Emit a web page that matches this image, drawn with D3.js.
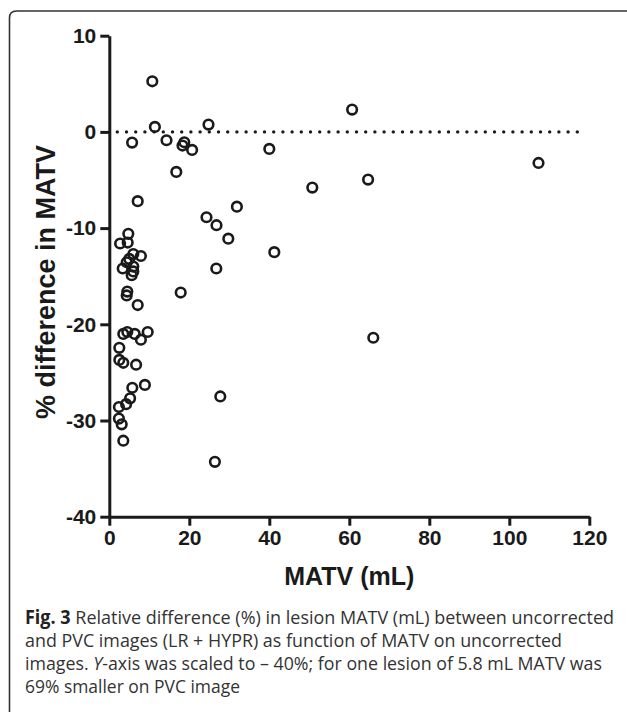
<!DOCTYPE html>
<html>
<head>
<meta charset="utf-8">
<script src="https://cdn.jsdelivr.net/npm/d3@7"></script>
<style>
  body { margin: 0; background: #fff; }
  svg { display: block; }
</style>
</head>
<body>
<script>
// lesion MATV (mL) on uncorrected images
var matv = [10.75, 11.4, 5.7, 14.3, 18.75, 18.3, 20.7, 24.8, 40.0, 60.7, 107.3, 16.75,
  50.75, 64.7, 7.1, 31.9, 24.3, 26.8, 29.75, 41.25, 26.75, 17.85, 66.0, 27.75, 26.4,
  4.75, 4.6, 2.7, 6.0, 7.9, 5.0, 4.35, 3.35, 6.0, 6.0, 5.6, 4.5, 4.35, 7.1,
  3.5, 4.5, 6.35, 7.9, 9.6, 2.5, 2.5, 3.5, 6.7, 5.75, 8.9, 5.2, 4.2, 2.4, 2.4, 3.1, 3.5];
// % difference in MATV
var pctDiff = [5.26, 0.52, -1.11, -0.87, -1.08, -1.42, -1.87, 0.76, -1.77, 2.32, -3.23, -4.16,
  -5.79, -4.96, -7.2, -7.77, -8.87, -9.7, -11.1, -12.5, -14.2, -16.7, -21.4, -27.5, -34.3,
  -10.6, -11.5, -11.6, -12.7, -12.9, -13.2, -13.55, -14.2, -14.0, -14.5, -14.9, -16.6, -17.0, -18.0,
  -21.0, -20.8, -21.0, -21.6, -20.8, -22.45, -23.7, -24.0, -24.2, -26.6, -26.3, -27.7, -28.3, -28.6, -29.8, -30.4, -32.1];
var xTicks = [0, 20, 40, 60, 80, 100, 120];
var yTicks = [10, 0, -10, -20, -30, -40];
var refLine = [0];

var captionLines = [
  [{t: "Fig. 3", w: "bold"}, {t: " Relative difference (%) in lesion MATV (mL) between uncorrected"}],
  [{t: "and PVC images (LR + HYPR) as function of MATV on uncorrected"}],
  [{t: "images. "}, {t: "Y", s: "italic"}, {t: "-axis was scaled to \u2013 40%; for one lesion of 5.8 mL MATV was"}],
  [{t: "69% smaller on PVC image"}]
];
var captionWidths = [589, 537, 577, 215];

var data = matv.map(function(v, i){ return {x: v, y: pctDiff[i]}; });

var width = 627, height = 712;
var marginLeft = 109.3, marginTop = 35.7, plotW = 480, plotH = 481;
var ink = "#1a1a1a";

var svg = d3.select("body").append("svg")
    .attr("width", width).attr("height", height);

// frame of the figure box
svg.append("path")
    .attr("d", "M9.5,712 L9.5,18 Q9.5,11 16.5,11 L627,11")
    .attr("fill", "none").attr("stroke", "#333").attr("stroke-width", 1.6);

var g = svg.append("g").attr("transform", "translate(" + marginLeft + "," + marginTop + ")");

var xScale = d3.scaleLinear().domain([0, 120]).range([0, plotW]);
var yScale = d3.scaleLinear().domain([-40, 10]).range([plotH, 0]);

// dotted zero line
g.selectAll(".ref").data(refLine).enter().append("line")
    .attr("x1", xScale(2)).attr("x2", xScale(119))
    .attr("y1", function(d){ return yScale(d); })
    .attr("y2", function(d){ return yScale(d); })
    .attr("stroke", ink).attr("stroke-width", 3.4)
    .attr("stroke-linecap", "round").attr("stroke-dasharray", "0,9.2");

var xAxis = d3.axisBottom(xScale).tickValues(xTicks).tickSizeInner(9).tickSizeOuter(0)
    .tickPadding(4).tickFormat(function(d){ return String(d); });
var yAxis = d3.axisLeft(yScale).tickValues(yTicks).tickSizeInner(9).tickSizeOuter(0)
    .tickPadding(4).tickFormat(function(d){ return String(d); });

var gx = g.append("g").attr("transform", "translate(0," + plotH + ")").call(xAxis);
var gy = g.append("g").call(yAxis);

[gx, gy].forEach(function(a){
  a.select(".domain").attr("stroke", ink).attr("stroke-width", 3);
  a.selectAll(".tick line").attr("stroke", ink).attr("stroke-width", 3);
  a.selectAll(".tick text").attr("fill", ink)
    .style("font-family", "Liberation Sans, Arial, sans-serif")
    .style("font-weight", "bold").style("font-size", "21px");
});

// points
g.append("g").selectAll("circle").data(data).enter().append("circle")
    .attr("cx", function(d){ return xScale(d.x); })
    .attr("cy", function(d){ return yScale(d.y); })
    .attr("r", 4.8)
    .attr("fill", "none").attr("stroke", ink).attr("stroke-width", 2.6);

// axis titles
svg.append("text")
    .attr("x", marginLeft + plotW / 2).attr("y", 585)
    .attr("text-anchor", "middle").attr("fill", ink)
    .style("font-family", "Liberation Sans, Arial, sans-serif")
    .style("font-weight", "bold").style("font-size", "25px")
    .text("MATV (mL)");

svg.append("text")
    .attr("transform", "translate(55,282) rotate(-90)")
    .attr("text-anchor", "middle").attr("fill", ink)
    .style("font-family", "Liberation Sans, Arial, sans-serif")
    .style("font-weight", "bold").style("font-size", "27px")
    .text("% difference in MATV");

// caption
var cap = svg.append("g")
    .style("font-family", "Open Sans, sans-serif").style("font-size", "19px").attr("fill", "#333");
captionLines.forEach(function(line, i){
  var t = cap.append("text").attr("x", 25).attr("y", 624 + i * 23)
      .attr("textLength", captionWidths[i]).attr("lengthAdjust", "spacingAndGlyphs");
  line.forEach(function(p){
    t.append("tspan").text(p.t)
      .style("font-weight", p.w || "normal").style("font-style", p.s || "normal")
      .attr("fill", p.w ? "#222" : "#333");
  });
});
</script>
</body>
</html>
